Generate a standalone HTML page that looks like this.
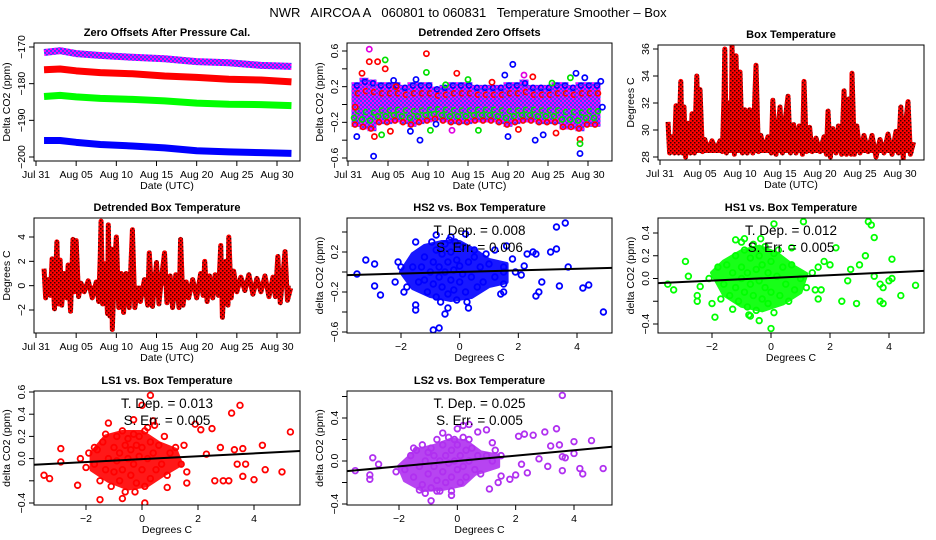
<!DOCTYPE html>
<html><head><meta charset="utf-8">
<style>
html,body{margin:0;padding:0;background:#fff;}
svg{display:block;font-family:"Liberation Sans",sans-serif;}
</style></head>
<body>
<svg id="chart" width="936" height="540" viewBox="0 0 936 540" xmlns="http://www.w3.org/2000/svg">
<defs>
<pattern id="redHatch" width="4" height="4" patternUnits="userSpaceOnUse">
<rect width="4" height="4" fill="#f00"/><rect x="0" y="0" width="1.5" height="1.5" fill="#400"/><rect x="2" y="2" width="1.5" height="1.5" fill="#400"/>
</pattern>
<pattern id="purpleHatch" width="4" height="4" patternUnits="userSpaceOnUse">
<rect width="4" height="4" fill="#ff00ff"/><rect x="0" y="0" width="2" height="2" fill="#4040ff"/><rect x="2" y="2" width="2" height="2" fill="#4040ff"/>
</pattern>
</defs>
<rect width="936" height="540" fill="#fff"/>
<text x="468" y="17" font-size="13" text-anchor="middle" xml:space="preserve">NWR   AIRCOA A   060801 to 060831   Temperature Smoother – Box</text>
</svg>
<script>
// ---------- data ----------
const dateTickDays=[0,5,10,15,20,25,30];
const dateTickLabels=["Jul 31","Aug 05","Aug 10","Aug 15","Aug 20","Aug 25","Aug 30"];
const zoDays=[1,3,5,8,12,16,20,24,28,31.8];
const zoPurple=[-171.5,-171,-171.8,-172.3,-172.8,-173.2,-174,-174.3,-175,-175.3];
const zoRed=[-176.2,-176,-176.5,-177,-177.3,-177.9,-178.3,-178.8,-179,-179.5];
const zoGreen=[-183.5,-183.2,-183.6,-184,-184.3,-184.7,-185.3,-185.6,-185.7,-186];
const zoBlue=[-195.5,-195.5,-196,-196.6,-197,-197.5,-198.3,-198.6,-198.8,-199];
const dzDays=[1,2,3,4,5,6,7,8,9,10,11,12,13,14,15,16,17,18,19,20,21,22,23,24,25,26,27,28,29,30,31];
const dzHi=[0.25,0.3,0.28,0.25,0.25,0.25,0.22,0.25,0.25,0.25,0.2,0.22,0.25,0.25,0.25,0.22,0.22,0.22,0.22,0.25,0.25,0.28,0.22,0.22,0.22,0.25,0.25,0.22,0.25,0.25,0.25];
const dzLo=[-0.25,-0.28,-0.3,-0.22,-0.22,-0.2,-0.22,-0.25,-0.22,-0.2,-0.18,-0.2,-0.22,-0.22,-0.22,-0.2,-0.2,-0.2,-0.22,-0.25,-0.22,-0.2,-0.2,-0.22,-0.22,-0.22,-0.28,-0.28,-0.3,-0.25,-0.25];
const dzOutliers=[[2.66,0.62,"#e000e0"],[2.66,0.48,"red"],[3.7,0.48,"red"],[4.65,0.5,"#00e000"],[4.65,0.4,"red"],[1.1,-0.36,"blue"],[3.3,-0.36,"red"],[3.2,-0.58,"blue"],[4.2,-0.34,"#00e000"],[9.0,-0.4,"blue"],[9.8,0.57,"red"],[9.8,0.36,"#00e000"],[10.3,-0.29,"#00e000"],[7.8,-0.3,"blue"],[5.3,-0.3,"red"],[20.6,0.45,"blue"],[19.6,0.33,"blue"],[20.0,-0.36,"blue"],[23.1,0.31,"red"],[23.4,-0.4,"blue"],[24.4,-0.34,"blue"],[26,-0.32,"red"],[28.5,0.35,"blue"],[29,-0.39,"red"],[29,-0.44,"#00e000"],[29,-0.55,"blue"],[29.6,0.3,"blue"],[31.6,0.26,"blue"],[13.6,0.35,"red"],[1.75,0.35,"red"],[5.7,0.27,"blue"],[13,-0.29,"#e000e0"],[16.3,-0.29,"#00e000"],[21.3,-0.28,"red"],[31.8,-0.03,"blue"],[0.9,-0.03,"red"],[6.0,0.2,"red"],[8.5,0.28,"blue"],[12.2,0.22,"#00e000"],[18.0,0.25,"red"],[25.5,0.24,"#00e000"],[27.8,0.3,"#00e000"],[11.0,-0.22,"blue"],[15.0,0.28,"#00e000"],[22.0,0.33,"#e000e0"]];
const boxT=[[1.0,30.6],[1.2,28.3],[1.5,29.5],[1.8,28.3],[2.0,31.8],[2.3,28.3],[2.6,33.6],[2.8,28.3],[3.0,31.7],[3.2,28.0],[3.5,30.5],[3.8,28.3],[4.0,31.2],[4.3,28.3],[4.6,34.0],[4.8,28.5],[5.0,33.0],[5.3,28.4],[5.6,29.3],[6.0,28.5],[6.5,29.2],[7.0,28.5],[7.5,29.2],[7.8,28.4],[8.0,32.5],[8.1,36.0],[8.3,28.3],[8.6,32.0],[8.9,28.5],[9.0,36.2],[9.3,28.2],[9.5,35.5],[9.8,28.5],[10.0,34.3],[10.3,28.3],[10.6,31.5],[10.9,28.3],[11.2,31.5],[11.6,28.3],[12.0,34.8],[12.3,28.4],[12.6,29.6],[13.0,28.5],[13.5,29.5],[13.9,28.3],[14.1,32.2],[14.5,28.2],[15.0,31.7],[15.3,28.3],[15.6,30.5],[16.0,32.5],[16.3,28.3],[16.7,30.4],[17.0,28.3],[17.4,30.3],[17.8,28.2],[18.0,33.6],[18.3,28.4],[18.7,30.2],[19.0,28.4],[19.5,29.4],[20.0,28.4],[20.5,29.5],[20.8,28.2],[21.0,31.4],[21.3,28.0],[21.6,30.1],[22.0,28.3],[22.3,30.3],[22.7,28.2],[23.0,32.9],[23.3,28.2],[23.6,32.3],[23.9,28.2],[24.0,34.2],[24.3,28.2],[24.6,30.3],[25.0,28.3],[25.5,29.6],[26.0,28.4],[26.5,29.6],[27.0,28.0],[27.5,29.3],[28.0,28.3],[28.5,29.7],[29.0,28.2],[29.5,29.9],[29.8,28.3],[30.1,31.7],[30.4,27.9],[30.7,30.5],[31.0,32.1],[31.3,28.2],[31.7,29.1]];
const detT=[[1.0,1.4],[1.2,-1.0],[1.5,0.5],[1.8,-0.8],[2.0,2.2],[2.3,-1.9],[2.6,3.6],[2.8,-1.5],[3.0,2.1],[3.2,-1.6],[3.5,1.0],[3.8,-1.0],[4.0,1.7],[4.3,-2.1],[4.6,3.8],[4.8,-0.5],[5.0,3.7],[5.3,-0.9],[5.6,0.2],[6.0,-0.5],[6.5,0.4],[7.0,-1.0],[7.5,0.3],[7.8,-1.3],[8.0,2.5],[8.1,5.3],[8.3,-1.5],[8.6,1.8],[8.9,-2.3],[9.0,5.0],[9.2,-2.5],[9.4,3.0],[9.5,-3.6],[9.8,2.0],[10.0,4.0],[10.3,-1.8],[10.6,1.0],[10.9,-2.2],[11.2,1.0],[11.6,-1.8],[12.0,4.6],[12.3,-1.8],[12.6,-0.5],[13.0,-1.3],[13.5,0.5],[13.9,-1.6],[14.1,2.7],[14.5,-1.7],[15.0,1.9],[15.3,-1.5],[15.6,0.5],[16.0,2.7],[16.3,-1.4],[16.7,0.8],[17.0,-1.8],[17.4,0.9],[17.8,-1.8],[18.0,3.8],[18.3,-1.6],[18.7,0.3],[19.0,-1.0],[19.5,0.5],[20.0,-1.0],[20.5,1.0],[20.8,-0.8],[21.0,2.0],[21.3,-1.3],[21.6,0.8],[22.0,-1.0],[22.3,0.9],[22.7,-0.8],[23.0,3.3],[23.2,-2.6],[23.6,2.0],[23.9,-1.6],[24.0,4.0],[24.3,-1.0],[24.6,1.2],[25.0,-0.5],[25.5,0.7],[26.0,-0.4],[26.5,0.9],[27.0,-0.7],[27.5,0.6],[28.0,-0.5],[28.5,0.8],[29.0,-0.9],[29.5,0.7],[29.8,-0.9],[30.1,2.4],[30.4,-1.4],[30.7,0.6],[31.0,2.8],[31.3,-1.2],[31.7,-0.2]];
const hs2Pts=[[-3.5,-0.02],[-3.2,0.12],[-2.9,0.08],[-2.9,-0.14],[-2.7,-0.23],[-2.2,-0.1],[-2.1,0.1],[-1.9,-0.2],[-1.5,0.3],[-1.5,-0.38],[-1.5,-0.33],[-0.9,-0.58],[-0.7,-0.56],[-0.5,-0.42],[-0.4,-0.36],[-0.8,0.37],[-0.3,0.35],[0.2,0.38],[0.3,-0.36],[0.5,0.22],[1.2,0.22],[1.4,-0.22],[1.6,0.26],[1.8,0.13],[2.3,0.18],[2.5,0.2],[2.6,0.18],[2.6,-0.24],[2.7,-0.2],[3.3,0.45],[3.6,0.49],[3.3,0.23],[3.7,0.05],[3.1,0.2],[3.4,-0.14],[4.2,-0.16],[4.4,-0.13],[4.9,-0.4],[2.2,0.06],[2.8,-0.1],
[-1.6,0.05],[-1.4,-0.1],[-1.2,0.15],[-1.1,-0.2],[-1.0,0.0],[-0.9,0.1],[-0.9,-0.12],[-0.8,0.22],[-0.8,-0.25],[-0.7,0.05],[-0.7,-0.05],[-0.6,0.18],[-0.6,-0.15],[-0.5,0.0],[-0.5,0.28],[-0.4,-0.22],[-0.4,0.1],[-0.3,-0.08],[-0.3,0.2],[-0.2,0.02],[-0.2,-0.18],[-0.1,0.12],[-0.1,-0.28],[0.0,0.06],[0.0,-0.1],[0.1,0.25],[0.1,-0.02],[0.2,-0.2],[0.3,0.1],[0.4,-0.05],[0.5,0.15],[0.6,-0.15],[0.7,0.05],[0.8,-0.1],[1.0,0.08],[1.2,-0.05],[1.5,-0.12],[1.5,0.0],[-1.3,0.05],[-1.8,-0.15],[-2.0,0.05],[-1.2,-0.08],[-0.95,0.3],[-0.65,-0.3],[-0.35,0.32],[-0.15,0.3],[0.25,-0.3],[0.9,0.18],[1.9,0.0],[2.1,-0.03],[1.5,-0.2],[1.5,0.05]];
const hs1Pts=[[-3.5,-0.05],[-3.3,-0.1],[-2.9,0.15],[-2.8,0.02],[-2.5,-0.2],[-2.5,-0.15],[-2.4,-0.07],[-2.0,-0.22],[-1.9,-0.34],[-1.2,0.34],[-1.3,-0.27],[-0.9,0.35],[-0.7,-0.33],[-0.4,-0.37],[0.0,-0.44],[0.1,0.48],[0.7,0.27],[1.1,0.5],[1.5,-0.1],[1.6,-0.18],[2.0,0.12],[2.2,0.27],[2.4,-0.2],[2.7,0.08],[2.9,-0.22],[3.0,0.12],[3.3,0.5],[3.4,0.47],[3.5,0.36],[3.2,0.2],[3.5,0.02],[3.7,-0.05],[3.8,-0.08],[3.7,-0.2],[3.8,-0.22],[4.0,-0.02],[4.1,0.17],[4.1,0.0],[4.4,-0.15],[4.9,-0.06],[1.8,0.15],[2.6,-0.02],
[-1.8,0.1],[-1.6,-0.05],[-1.5,0.12],[-1.4,-0.15],[-1.3,0.05],[-1.2,0.2],[-1.2,-0.08],[-1.1,-0.2],[-1.0,0.1],[-1.0,0.0],[-0.9,0.25],[-0.9,-0.12],[-0.8,0.05],[-0.8,-0.25],[-0.7,0.18],[-0.7,-0.05],[-0.6,0.3],[-0.6,-0.15],[-0.5,0.08],[-0.5,-0.28],[-0.4,0.2],[-0.4,-0.02],[-0.3,-0.18],[-0.3,0.12],[-0.2,0.28],[-0.2,-0.08],[-0.1,0.05],[-0.1,-0.22],[0.0,0.15],[0.0,-0.12],[0.1,0.22],[0.1,-0.3],[0.2,0.02],[0.3,-0.15],[0.4,0.1],[0.5,-0.05],[0.6,-0.2],[0.7,0.12],[0.8,-0.1],[1.0,0.0],[1.2,-0.08],[1.4,0.05],[1.6,0.1],[1.7,-0.1],[-2.1,0.0],[-1.7,-0.18],[-1.0,0.32],[-0.35,0.35],[0.25,0.25],[-0.75,-0.32]];
const ls1Pts=[[-3.5,-0.15],[-3.3,-0.18],[-2.9,0.09],[-2.9,-0.03],[-2.3,-0.24],[-2.2,0.0],[-1.5,-0.37],[-1.7,0.1],[-1.2,0.32],[-0.7,-0.36],[-0.3,0.35],[0.0,0.48],[0.2,0.28],[0.3,0.57],[0.4,0.34],[0.1,-0.4],[0.9,-0.26],[1.6,-0.22],[1.9,0.31],[2.1,0.26],[2.5,0.27],[2.6,-0.2],[2.9,-0.2],[3.1,-0.2],[3.2,0.41],[3.5,0.48],[3.3,0.08],[3.6,0.09],[3.6,-0.16],[3.7,-0.05],[4.0,-0.19],[4.3,0.12],[4.4,-0.1],[5.0,-0.12],[5.3,0.24],[2.3,0.04],[2.8,0.1],[3.4,-0.05],
[-1.7,-0.05],[-1.6,0.08],[-1.5,-0.2],[-1.4,0.15],[-1.3,-0.1],[-1.3,0.22],[-1.2,0.0],[-1.1,-0.25],[-1.0,0.1],[-1.0,-0.12],[-0.9,0.2],[-0.9,-0.02],[-0.8,-0.2],[-0.8,0.05],[-0.7,0.25],[-0.7,-0.1],[-0.6,0.12],[-0.6,-0.3],[-0.5,0.0],[-0.5,0.18],[-0.4,-0.15],[-0.4,0.08],[-0.3,0.22],[-0.3,-0.05],[-0.2,-0.22],[-0.2,0.12],[-0.1,0.02],[-0.1,0.2],[0.0,-0.1],[0.0,0.1],[0.1,-0.25],[0.1,0.25],[0.2,0.0],[0.3,0.15],[0.3,-0.18],[0.4,0.05],[0.5,-0.1],[0.6,0.12],[0.7,-0.05],[0.8,0.2],[0.9,-0.15],[1.0,0.05],[1.2,0.1],[1.4,-0.05],[1.5,0.12],[1.6,-0.12],[-2.0,-0.08],[-1.9,0.05],[-0.25,-0.3],[0.45,0.3]];
const ls2Pts=[[-3.5,-0.09],[-3.0,-0.13],[-3.0,-0.17],[-2.9,0.03],[-2.7,-0.03],[-1.3,-0.27],[-0.9,-0.37],[-0.7,-0.28],[-0.5,0.26],[-0.2,-0.32],[0.0,0.3],[0.2,0.33],[0.4,0.34],[0.7,0.27],[1.0,0.29],[1.1,-0.26],[1.2,0.17],[1.4,-0.2],[1.5,-0.14],[1.8,-0.17],[2.0,-0.13],[2.1,0.23],[2.2,-0.03],[2.3,0.25],[2.4,-0.11],[2.6,0.24],[3.0,0.27],[3.2,0.14],[3.4,0.3],[3.5,0.15],[3.6,0.61],[3.6,0.04],[3.7,0.03],[3.6,-0.09],[4.0,0.18],[4.0,0.07],[4.2,-0.07],[4.3,-0.12],[4.6,0.19],[5.0,-0.07],[2.8,0.02],[3.1,-0.05],
[-1.8,-0.08],[-1.6,0.05],[-1.5,-0.15],[-1.4,0.1],[-1.3,-0.05],[-1.2,-0.22],[-1.2,0.15],[-1.1,0.0],[-1.0,-0.12],[-1.0,0.08],[-0.9,-0.25],[-0.9,0.12],[-0.8,-0.05],[-0.8,0.05],[-0.7,-0.18],[-0.7,0.2],[-0.6,0.0],[-0.6,-0.28],[-0.5,0.15],[-0.5,-0.1],[-0.4,0.05],[-0.4,-0.2],[-0.3,0.22],[-0.3,-0.02],[-0.2,-0.15],[-0.2,0.1],[-0.1,0.0],[-0.1,0.2],[0.0,-0.08],[0.0,0.15],[0.1,-0.2],[0.1,0.05],[0.2,0.22],[0.2,-0.05],[0.3,0.1],[0.3,-0.15],[0.4,0.0],[0.5,0.12],[0.6,-0.08],[0.7,0.05],[0.8,-0.12],[1.0,0.05],[1.2,0.0],[1.3,0.1],[1.5,0.05],[-2.1,-0.1],[-1.5,0.12],[-1.1,-0.3],[-0.2,-0.28],[0.4,0.2]];
// dense-core outlines (data units) where markers overlap into a solid blob
const hs2Core=[[-2.0,0.0],[-1.6,0.18],[-1.2,0.26],[-0.6,0.3],[0.0,0.3],[0.5,0.22],[1.0,0.12],[1.6,0.08],[1.6,-0.1],[1.0,-0.14],[0.4,-0.25],[-0.3,-0.28],[-1.0,-0.24],[-1.6,-0.16]];
const hs1Core=[[-2.0,0.05],[-1.6,0.15],[-1.0,0.24],[-0.4,0.28],[0.2,0.22],[0.8,0.1],[1.2,0.04],[1.0,-0.12],[0.4,-0.22],[-0.3,-0.28],[-1.0,-0.24],[-1.6,-0.14]];
const ls1Core=[[-1.8,0.05],[-1.3,0.2],[-0.7,0.24],[0.0,0.24],[0.6,0.14],[1.2,0.08],[1.4,-0.05],[0.8,-0.14],[0.2,-0.24],[-0.5,-0.27],[-1.2,-0.2],[-1.8,-0.1]];
const ls2Core=[[-2.0,-0.05],[-1.4,0.1],[-0.8,0.14],[-0.2,0.2],[0.3,0.18],[0.8,0.08],[1.4,0.05],[1.4,-0.05],[0.6,-0.12],[0.2,-0.22],[-0.5,-0.26],[-1.2,-0.27],[-1.8,-0.18]];
const fitSlopes=[0.008,0.012,0.013,0.025];
const fitIntercepts=[0.0,0.005,-0.005,0.0];
const fitSE=["0.006","0.005","0.005","0.005"];

// ---------- helpers ----------
const NS="http://www.w3.org/2000/svg";
const svg=document.getElementById('chart');
function mk(tag,attrs,parent,txt){const e=document.createElementNS(NS,tag);for(const k in attrs)e.setAttribute(k,attrs[k]);if(txt!==undefined)e.textContent=txt;(parent||svg).appendChild(e);return e;}
function lin(v1,p1,v2,p2){return v=>p1+(v-v1)*(p2-p1)/(v2-v1);}

function panel(name,box,title,xs,ys,xt,xl,yt,yl,xtitle,ytitle){
  const g=mk('g',{},svg);
  
  
  const [L,T,R,B]=box;
  const t=mk('text',{x:(L+R)/2,y:T-7,'font-size':11,'font-weight':'bold','text-anchor':'middle'},g,title);
  
  
  const xa=mk('g',{},g);
  
  
  mk('line',{x1:xs(xt[0]),x2:xs(xt[xt.length-1]),y1:B,y2:B,stroke:'#000'},xa);
  xt.forEach((v,i)=>{mk('line',{x1:xs(v),x2:xs(v),y1:B,y2:B+5,stroke:'#000'},xa);
    if(xl[i]!==''){const tl=mk('text',{x:xs(v),y:B+17,'font-size':10.5,'text-anchor':'middle'},xa,xl[i]);
    
    }});
  const xtt=mk('text',{x:(L+R)/2,y:B+28,'font-size':10.5,'text-anchor':'middle'},g,xtitle);
  
  
  const ya=mk('g',{},g);
  
  
  mk('line',{x1:L,x2:L,y1:ys(yt[0]),y2:ys(yt[yt.length-1]),stroke:'#000'},ya);
  yt.forEach((v,i)=>{mk('line',{x1:L-5,x2:L,y1:ys(v),y2:ys(v),stroke:'#000'},ya);
    if(yl[i]!==''){const tl=mk('text',{x:0,y:0,'font-size':10.5,'text-anchor':'middle',transform:`translate(${L-9},${ys(v)}) rotate(-90)`},ya,yl[i]);
    
    }});
  const ytt=mk('text',{x:0,y:0,'font-size':10.5,'text-anchor':'middle',transform:`translate(${L-24},${(T+B)/2}) rotate(-90)`},g,ytitle);
  
  
  const clipId='c'+name;
  const cp=mk('clipPath',{id:clipId},g);mk('rect',{x:L,y:T,width:R-L,height:B-T},cp);
  const plot=mk('g',{'clip-path':`url(#${clipId})`},g);
  
  
  g._box=box;g._plot=plot;g._frame=()=>{const f=mk('rect',{x:L,y:T,width:R-L,height:B-T,fill:'none',stroke:'#000'},g);};
  return g;
}
const row1=[43,161],row2=[218,333],row3=[391,505];
const cols=[[34,300],[347,612],[658,924]];
const dayScale=c=>lin(0,[36,348,660][c],30,[277,588,900][c]);
const dl=dateTickLabels;

// ---------- Panel 1 ----------
{const xs=dayScale(0),ys=lin(-170,47,-200,157);
 const g=panel('zero-offsets-panel',[cols[0][0],row1[0],cols[0][1],row1[1]],'Zero Offsets After Pressure Cal.',xs,ys,dateTickDays,dl,[-200,-190,-180,-170],['−200','−190','−180','−170'],'Date (UTC)','Delta CO2 (ppm)');
 [[zoPurple,'url(#purpleHatch)','series-ls2'],[zoRed,'red','series-ls1'],[zoGreen,'#00ff00','series-hs1'],[zoBlue,'blue','series-hs2']].forEach(([arr,c,n])=>{
   const p=mk('polyline',{points:zoDays.map((d,i)=>xs(d)+','+ys(arr[i])).join(' '),fill:'none',stroke:c,'stroke-width':7,'stroke-linejoin':'round'},g._plot);
   
   
 });
 g._frame();}

// ---------- Panel 2 ----------
{const xs=dayScale(1),ys=lin(0.6,51,-0.6,158);
 const g=panel('detrended-zero-offsets-panel',[cols[1][0],row1[0],cols[1][1],row1[1]],'Detrended Zero Offsets',xs,ys,dateTickDays,dl,[-0.6,-0.4,-0.2,0,0.2,0.4,0.6],['−0.6','','−0.2','','0.2','','0.6'],'Date (UTC)','Delta CO2 (ppm)');
 dzDays.forEach((d,i)=>{
   const r=mk('rect',{x:xs(d)-4.5,y:ys(dzHi[i]),width:9,height:ys(dzLo[i])-ys(dzHi[i]),fill:'url(#purpleHatch)'},g._plot);
   
   
   mk('circle',{cx:xs(d)+2,cy:ys(dzHi[i]*0.5),r:2.5,fill:'none',stroke:'red','stroke-width':1.6},g._plot);
   mk('circle',{cx:xs(d)-2,cy:ys(dzLo[i]*0.6),r:2.5,fill:'none',stroke:'#00e000','stroke-width':1.6},g._plot);
   mk('circle',{cx:xs(d)+1,cy:ys(dzHi[i]*0.85),r:2.5,fill:'none',stroke:'blue','stroke-width':1.6},g._plot);
   mk('circle',{cx:xs(d)-1,cy:ys(dzLo[i]*0.9),r:2.5,fill:'none',stroke:'red','stroke-width':1.6},g._plot);
   mk('circle',{cx:xs(d)+2,cy:ys(dzLo[i]*0.3),r:2.5,fill:'none',stroke:'#00e000','stroke-width':1.6},g._plot);
 });
 dzOutliers.forEach(([d,v,c])=>{const m=mk('circle',{cx:xs(d),cy:ys(v),r:2.6,fill:'none',stroke:c,'stroke-width':1.7},g._plot);
   
   });
 g._frame();}

function tsLine(g,xs,ys,pts,base,name){
  const s=pts.map(p=>xs(p[0])+','+ys(p[1])).join(' ');
  const first=pts[0],last=pts[pts.length-1];
  const area=mk('polygon',{points:xs(first[0])+','+ys(base)+' '+s+' '+xs(last[0])+','+ys(base),fill:'url(#redHatch)',stroke:'none'},g._plot);
  
  
  const l=mk('polyline',{points:s,fill:'none',stroke:'url(#redHatch)','stroke-width':5,'stroke-linejoin':'round'},g._plot);
  
  
}
// ---------- Panel 3 ----------
{const xs=dayScale(2),ys=lin(36,49,28,157);
 const g=panel('box-temperature-panel',[cols[2][0],45,cols[2][1],160],'Box Temperature',xs,ys,dateTickDays,dl,[28,30,32,34,36],['28','30','32','34','36'],'Date (UTC)','Degrees C');
 tsLine(g,xs,ys,boxT,28.3,'box-temperature-series');g._frame();}
// ---------- Panel 4 ----------
{const xs=dayScale(0),ys=lin(4,237,-2,310);
 const g=panel('detrended-box-temperature-panel',[cols[0][0],row2[0],cols[0][1],row2[1]],'Detrended Box Temperature',xs,ys,dateTickDays,dl,[-2,0,2,4],['−2','0','2','4'],'Date (UTC)','Degrees C');
 tsLine(g,xs,ys,detT,0,'detrended-temperature-series');g._frame();}

// ---------- scatter panels ----------
function scatter(name,box,title,xs,ys,yt,yl,pts,core,color,idx,xmin,xmax){
  const g=panel(name,box,title,xs,ys,[-2,0,2,4],['−2','0','2','4'],yt,yl,'Degrees C','delta CO2 (ppm)');
  const cp=mk('polygon',{points:core.map(([x,y])=>xs(x)+','+ys(y)).join(' '),fill:color,stroke:color,'stroke-width':4,'stroke-linejoin':'round',opacity:0.9},g._plot);
  
  
  pts.forEach(([x,y])=>{const c=mk('circle',{cx:xs(x),cy:ys(y),r:2.8,fill:'none',stroke:color,'stroke-width':1.8},g._plot);
    
    });
  const f=x=>fitIntercepts[idx]+fitSlopes[idx]*x;
  const ln=mk('line',{x1:xs(xmin),y1:ys(f(xmin)),x2:xs(xmax),y2:ys(f(xmax)),stroke:'#000','stroke-width':2},g._plot);
  
  
  const [L,T,R,B]=box;
  const a=mk('text',{x:(L+R)/2,y:T+17,'font-size':13.5,'text-anchor':'middle','xml:space':'preserve'},g,'T. Dep. =  '+fitSlopes[idx].toFixed(3));
  
  
  const b=mk('text',{x:(L+R)/2,y:T+34,'font-size':13.5,'text-anchor':'middle','xml:space':'preserve'},g,'S. Err. =  '+fitSE[idx]);
  
  
  g._frame();
}
scatter('hs2-scatter-panel',[cols[1][0],row2[0],cols[1][1],row2[1]],'HS2 vs. Box Temperature',lin(-2,401,4,577),lin(0.2,252,-0.6,332),[-0.6,-0.4,-0.2,0,0.2,0.4],['−0.6','','−0.2','','0.2',''],hs2Pts,hs2Core,'blue',0,-4,5.5);
scatter('hs1-scatter-panel',[cols[2][0],row2[0],cols[2][1],row2[1]],'HS1 vs. Box Temperature',lin(-2,712,4,889),lin(0.4,233,-0.4,324),[-0.4,-0.2,0,0.2,0.4],['−0.4','','0.0','0.2','0.4'],hs1Pts,hs1Core,'#00ff00',1,-4,5.5);
scatter('ls1-scatter-panel',[cols[0][0],row3[0],cols[0][1],row3[1]],'LS1 vs. Box Temperature',lin(-2,86,4,254),lin(0.6,392,-0.4,503),[-0.4,-0.2,0,0.2,0.4,0.6],['−0.4','','0.0','0.2','0.4','0.6'],ls1Pts,ls1Core,'red',2,-4,6);
scatter('ls2-scatter-panel',[cols[1][0],row3[0],cols[1][1],row3[1]],'LS2 vs. Box Temperature',lin(-2,399,4,574),lin(0.4,418,-0.4,504),[-0.4,-0.2,0,0.2,0.4,0.6],['−0.4','','0.0','','0.4',''],ls2Pts,ls2Core,'#b030f0',3,-4,5.5);
</script>
</body></html>
